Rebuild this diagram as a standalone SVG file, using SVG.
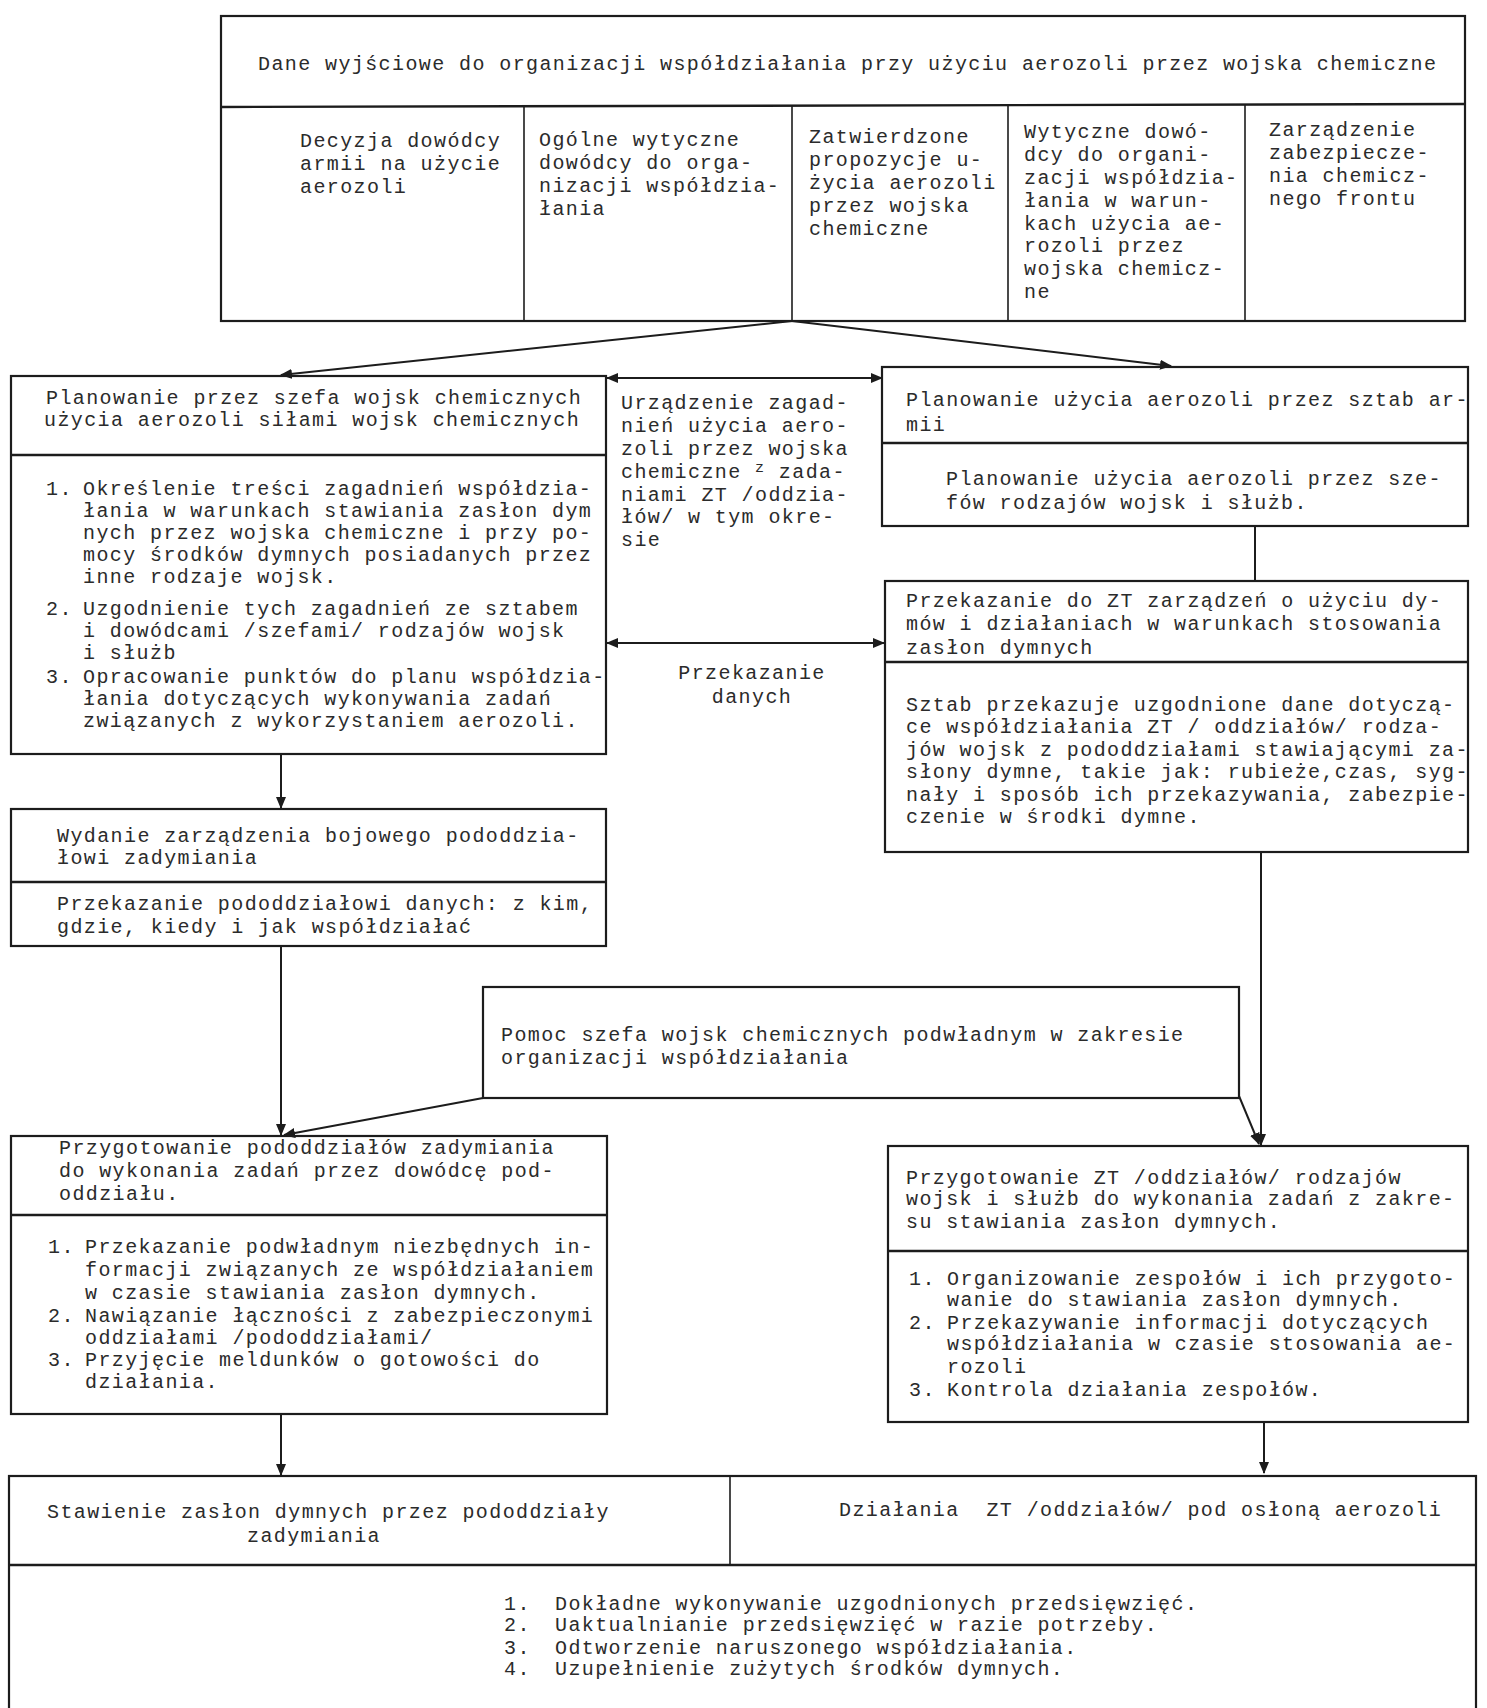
<svg xmlns="http://www.w3.org/2000/svg" width="1487" height="1708" viewBox="0 0 1487 1708">
<defs>
<style>
.t{font-family:"Liberation Mono","DejaVu Sans Mono",monospace;font-size:20px;letter-spacing:1.4px;fill:#2b2b2b}
.b{fill:none;stroke:#1c1c1c;stroke-width:2.2}
.d{stroke:#1c1c1c;stroke-width:2.4}
.v{stroke:#1c1c1c;stroke-width:1.6}
.c{fill:none;stroke:#1c1c1c;stroke-width:2}
</style>
<marker id="ah" viewBox="0 0 12 10" refX="11" refY="5" markerWidth="12" markerHeight="10" markerUnits="userSpaceOnUse" orient="auto-start-reverse">
<path d="M0,0 L12,5 L0,10 Z" fill="#1c1c1c"/>
</marker>
</defs>
<rect width="1487" height="1708" fill="#ffffff"/>

<g id="connectors">
<line class="c" x1="792" y1="321" x2="281" y2="375" marker-end="url(#ah)"/>
<line class="c" x1="792" y1="321" x2="1171" y2="366" marker-end="url(#ah)"/>
<line class="c" x1="607" y1="378" x2="882" y2="378" marker-start="url(#ah)" marker-end="url(#ah)"/>
<line class="c" x1="607" y1="643" x2="884" y2="643" marker-start="url(#ah)" marker-end="url(#ah)"/>
<line class="c" x1="1255" y1="526" x2="1255" y2="581"/>
<line class="c" x1="281" y1="754" x2="281" y2="808" marker-end="url(#ah)"/>
<line class="c" x1="281" y1="946" x2="281" y2="1135" marker-end="url(#ah)"/>
<line class="c" x1="483" y1="1098" x2="284" y2="1135" marker-end="url(#ah)"/>
<line class="c" x1="1261" y1="852" x2="1261" y2="1145" marker-end="url(#ah)"/>
<line class="c" x1="1239" y1="1096" x2="1259" y2="1144" marker-end="url(#ah)"/>
<line class="c" x1="281" y1="1414" x2="281" y2="1475" marker-end="url(#ah)"/>
<line class="c" x1="1264" y1="1422" x2="1264" y2="1473" marker-end="url(#ah)"/>
</g>

<g id="node-top">
<rect class="b" x="221" y="16" width="1244" height="305"/>
<line class="d" x1="221" y1="107" x2="1465" y2="104"/>
<line class="v" x1="524" y1="107" x2="524" y2="321"/>
<line class="v" x1="792" y1="106" x2="792" y2="321"/>
<line class="v" x1="1008" y1="105" x2="1008" y2="321"/>
<line class="v" x1="1245" y1="105" x2="1245" y2="321"/>
<text class="t" x="258" y="70">Dane wyjściowe do organizacji współdziałania przy użyciu aerozoli przez wojska chemiczne</text>
<text class="t" x="300" y="147">Decyzja dowódcy</text>
<text class="t" x="300" y="170">armii na użycie</text>
<text class="t" x="300" y="193">aerozoli</text>
<text class="t" x="539" y="146">Ogólne wytyczne</text>
<text class="t" x="539" y="169">dowódcy do orga-</text>
<text class="t" x="539" y="192">nizacji współdzia-</text>
<text class="t" x="539" y="215">łania</text>
<text class="t" x="809" y="143">Zatwierdzone</text>
<text class="t" x="809" y="166">propozycje u-</text>
<text class="t" x="809" y="189">życia aerozoli</text>
<text class="t" x="809" y="212">przez wojska</text>
<text class="t" x="809" y="235">chemiczne</text>
<text class="t" x="1024" y="138">Wytyczne dowó-</text>
<text class="t" x="1024" y="161">dcy do organi-</text>
<text class="t" x="1024" y="184">zacji współdzia-</text>
<text class="t" x="1024" y="207">łania w warun-</text>
<text class="t" x="1024" y="230">kach użycia ae-</text>
<text class="t" x="1024" y="252">rozoli przez</text>
<text class="t" x="1024" y="275">wojska chemicz-</text>
<text class="t" x="1024" y="298">ne</text>
<text class="t" x="1269" y="136">Zarządzenie</text>
<text class="t" x="1269" y="159">zabezpiecze-</text>
<text class="t" x="1269" y="182">nia chemicz-</text>
<text class="t" x="1269" y="205">nego frontu</text>
</g>

<g id="node-plan-szef">
<rect class="b" x="11" y="376" width="595" height="378"/>
<line class="d" x1="11" y1="455" x2="606" y2="455"/>
<text class="t" x="46" y="404">Planowanie przez szefa wojsk chemicznych</text>
<text class="t" x="44" y="426">użycia aerozoli siłami wojsk chemicznych</text>
<text class="t" x="46" y="495">1.</text>
<text class="t" x="83" y="495">Określenie treści zagadnień współdzia-</text>
<text class="t" x="83" y="517">łania w warunkach stawiania zasłon dym</text>
<text class="t" x="83" y="539">nych przez wojska chemiczne i przy po-</text>
<text class="t" x="83" y="561">mocy środków dymnych posiadanych przez</text>
<text class="t" x="83" y="583">inne rodzaje wojsk.</text>
<text class="t" x="46" y="615">2.</text>
<text class="t" x="83" y="615">Uzgodnienie tych zagadnień ze sztabem</text>
<text class="t" x="83" y="637">i dowódcami /szefami/ rodzajów wojsk</text>
<text class="t" x="83" y="659">i służb</text>
<text class="t" x="46" y="683">3.</text>
<text class="t" x="83" y="683">Opracowanie punktów do planu współdzia-</text>
<text class="t" x="83" y="705">łania dotyczących wykonywania zadań</text>
<text class="t" x="83" y="727">związanych z wykorzystaniem aerozoli.</text>
</g>

<g id="label-uzgodnienie">
<text class="t" x="621" y="409">Urządzenie zagad-</text>
<text class="t" x="621" y="432">nień użycia aero-</text>
<text class="t" x="621" y="455">zoli przez wojska</text>
<text class="t" x="621" y="478">chemiczne <tspan dy="-6" font-size="15">z</tspan><tspan dy="6"> zada-</tspan></text>
<text class="t" x="621" y="501">niami ZT /oddzia-</text>
<text class="t" x="621" y="523">łów/ w tym okre-</text>
<text class="t" x="621" y="546">sie</text>
</g>

<g id="label-przekazanie">
<text class="t" x="752" y="679" text-anchor="middle">Przekazanie</text>
<text class="t" x="752" y="703" text-anchor="middle">danych</text>
</g>

<g id="node-plan-sztab">
<rect class="b" x="882" y="367" width="586" height="159"/>
<line class="d" x1="882" y1="443" x2="1468" y2="443"/>
<text class="t" x="906" y="406">Planowanie użycia aerozoli przez sztab ar-</text>
<text class="t" x="906" y="431">mii</text>
<text class="t" x="946" y="485">Planowanie użycia aerozoli przez sze-</text>
<text class="t" x="946" y="509">fów rodzajów wojsk i służb.</text>
</g>

<g id="node-przekazanie-zt">
<rect class="b" x="885" y="581" width="583" height="271"/>
<line class="d" x1="885" y1="662" x2="1468" y2="662"/>
<text class="t" x="906" y="607">Przekazanie do ZT zarządzeń o użyciu dy-</text>
<text class="t" x="906" y="630">mów i działaniach w warunkach stosowania</text>
<text class="t" x="906" y="654">zasłon dymnych</text>
<text class="t" x="906" y="711">Sztab przekazuje uzgodnione dane dotyczą-</text>
<text class="t" x="906" y="733">ce współdziałania ZT / oddziałów/ rodza-</text>
<text class="t" x="906" y="756">jów wojsk z pododdziałami stawiającymi za-</text>
<text class="t" x="906" y="778">słony dymne, takie jak: rubieże,czas, syg-</text>
<text class="t" x="906" y="801">nały i sposób ich przekazywania, zabezpie-</text>
<text class="t" x="906" y="823">czenie w środki dymne.</text>
</g>

<g id="node-wydanie">
<rect class="b" x="11" y="809" width="595" height="137"/>
<line class="d" x1="11" y1="882" x2="606" y2="882"/>
<text class="t" x="57" y="842">Wydanie zarządzenia bojowego pododdzia-</text>
<text class="t" x="57" y="864">łowi zadymiania</text>
<text class="t" x="57" y="910">Przekazanie pododdziałowi danych: z kim,</text>
<text class="t" x="57" y="933">gdzie, kiedy i jak współdziałać</text>
</g>

<g id="node-pomoc">
<rect class="b" x="483" y="987" width="756" height="111"/>
<text class="t" x="501" y="1041">Pomoc szefa wojsk chemicznych podwładnym w zakresie</text>
<text class="t" x="501" y="1064">organizacji współdziałania</text>
</g>

<g id="node-przyg-pododdz">
<rect class="b" x="11" y="1136" width="596" height="278"/>
<line class="d" x1="11" y1="1215" x2="607" y2="1215"/>
<text class="t" x="59" y="1154">Przygotowanie pododdziałów zadymiania</text>
<text class="t" x="59" y="1177">do wykonania zadań przez dowódcę pod-</text>
<text class="t" x="59" y="1200">oddziału.</text>
<text class="t" x="48" y="1253">1.</text>
<text class="t" x="85" y="1253">Przekazanie podwładnym niezbędnych in-</text>
<text class="t" x="85" y="1276">formacji związanych ze współdziałaniem</text>
<text class="t" x="85" y="1299">w czasie stawiania zasłon dymnych.</text>
<text class="t" x="48" y="1322">2.</text>
<text class="t" x="85" y="1322">Nawiązanie łączności z zabezpieczonymi</text>
<text class="t" x="85" y="1344">oddziałami /pododdziałami/</text>
<text class="t" x="48" y="1366">3.</text>
<text class="t" x="85" y="1366">Przyjęcie meldunków o gotowości do</text>
<text class="t" x="85" y="1388">działania.</text>
</g>

<g id="node-przyg-zt">
<rect class="b" x="888" y="1146" width="580" height="276"/>
<line class="d" x1="888" y1="1251" x2="1468" y2="1251"/>
<text class="t" x="906" y="1184">Przygotowanie ZT /oddziałów/ rodzajów</text>
<text class="t" x="906" y="1205">wojsk i służb do wykonania zadań z zakre-</text>
<text class="t" x="906" y="1228">su stawiania zasłon dymnych.</text>
<text class="t" x="909" y="1285">1.</text>
<text class="t" x="947" y="1285">Organizowanie zespołów i ich przygoto-</text>
<text class="t" x="947" y="1306">wanie do stawiania zasłon dymnych.</text>
<text class="t" x="909" y="1329">2.</text>
<text class="t" x="947" y="1329">Przekazywanie informacji dotyczących</text>
<text class="t" x="947" y="1350">współdziałania w czasie stosowania ae-</text>
<text class="t" x="947" y="1373">rozoli</text>
<text class="t" x="909" y="1396">3.</text>
<text class="t" x="947" y="1396">Kontrola działania zespołów.</text>
</g>

<g id="node-bottom">
<rect class="b" x="9" y="1476" width="1467" height="240"/>
<line class="d" x1="9" y1="1565" x2="1476" y2="1565"/>
<line class="v" x1="730" y1="1476" x2="730" y2="1565"/>
<text class="t" x="47" y="1518">Stawienie zasłon dymnych przez pododdziały</text>
<text class="t" x="314" y="1542" text-anchor="middle">zadymiania</text>
<text class="t" x="839" y="1516">Działania&#160; ZT /oddziałów/ pod osłoną aerozoli</text>
<text class="t" x="504" y="1610">1.</text>
<text class="t" x="555" y="1610">Dokładne wykonywanie uzgodnionych przedsięwzięć.</text>
<text class="t" x="504" y="1631">2.</text>
<text class="t" x="555" y="1631">Uaktualnianie przedsięwzięć w razie potrzeby.</text>
<text class="t" x="504" y="1654">3.</text>
<text class="t" x="555" y="1654">Odtworzenie naruszonego współdziałania.</text>
<text class="t" x="504" y="1675">4.</text>
<text class="t" x="555" y="1675">Uzupełnienie zużytych środków dymnych.</text>
</g>
</svg>
